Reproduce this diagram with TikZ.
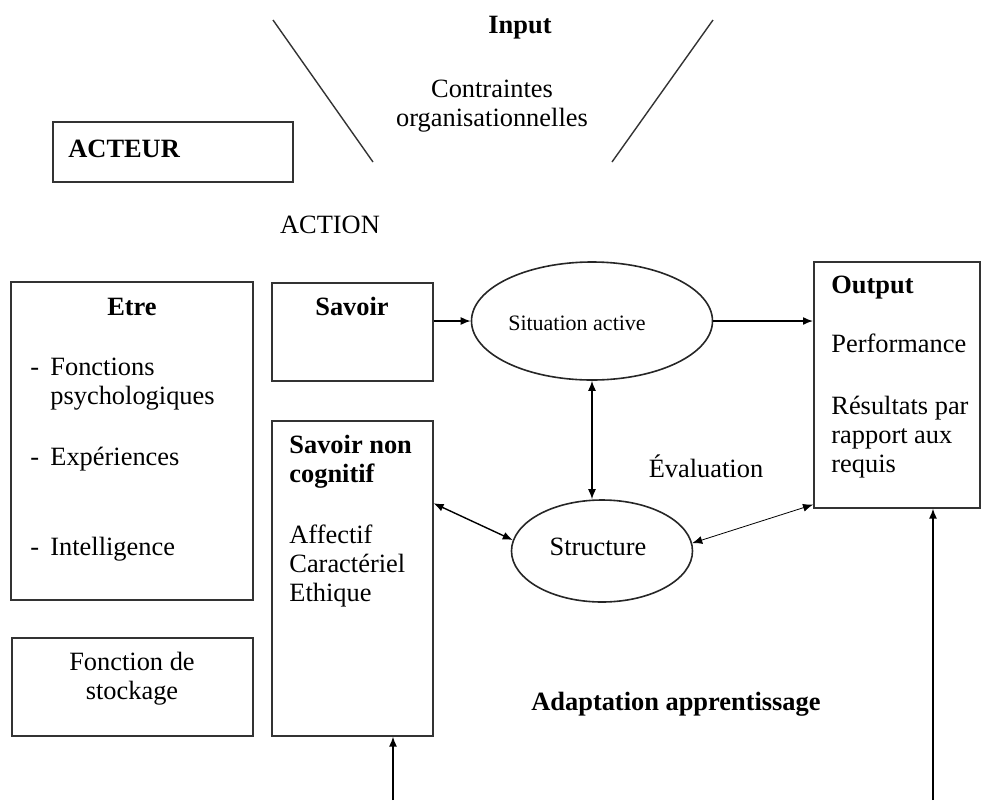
\documentclass[tikz,border=0pt]{standalone}
\usepackage{fontspec}
\setmainfont{Liberation Serif}
\usepackage{tikz}
\usetikzlibrary{shapes.geometric, arrows.meta, positioning, calc}

\begin{document}
\begin{tikzpicture}[
    x=0.5pt, y=-0.5pt,
    box/.style={rectangle, draw=black!80, line width=0.8pt, inner sep=0pt, anchor=north west},
    oval/.style={ellipse, draw=black!85, line width=0.8pt, inner sep=0pt},
    txt/.style={font=\fontsize{13.2}{14.5}\selectfont, inner sep=0pt, align=left, anchor=base west},
    ctxt/.style={font=\fontsize{13.2}{14.5}\selectfont, inner sep=0pt, align=center, anchor=base},
    arrow/.style={-{Latex[length=5pt, width=4pt]}, line width=0.7pt},
    darrow/.style={{Latex[length=5pt, width=4pt]}-{Latex[length=5pt, width=4pt]}, line width=0.7pt}
]
\useasboundingbox (0,0) rectangle (982,800);

% Input funnel
\draw[line width=0.7pt, black!80] (273,20) -- (373,162);
\draw[line width=0.7pt, black!80] (713,20) -- (612,162);
\node[ctxt, font=\fontsize{13.2}{14.5}\selectfont\bfseries] (input) at (520,33) {Input};
\node[ctxt] (contr) at (492,126) {Contraintes\\organisationnelles};

% Boxes
\node[box, minimum width=120pt, minimum height=30pt] (acteur) at (52,121) {};
\node[box, minimum width=121pt, minimum height=159pt] (etre) at (10,281) {};
\node[box, minimum width=120.5pt, minimum height=49pt] (stock) at (11,637) {};
\node[box, minimum width=80.5pt, minimum height=49pt] (savoir) at (271,282) {};
\node[box, minimum width=80.5pt, minimum height=157.5pt] (snc) at (271,420) {};
\node[box, minimum width=83pt, minimum height=123pt] (output) at (813,261) {};

% Ellipses
\node[oval, minimum width=120.5pt, minimum height=59pt] (sitact) at (592,321) {};
\node[oval, minimum width=90.5pt, minimum height=51pt] (struct) at (602,551) {};

% Texts (base = last line)
\node[txt, font=\fontsize{13.2}{14.5}\selectfont\bfseries] (tacteur) at (68,157) {ACTEUR};
\node[ctxt] (action) at (330,233) {ACTION};

\node[ctxt, font=\fontsize{13.2}{14.5}\selectfont\bfseries] (tetre) at (132,315) {Etre};
\node[txt] (d1) at (30,375) {-};
\node[txt] (fonct) at (50,404) {Fonctions\\psychologiques};
\node[txt] (d2) at (30,465) {-};
\node[txt] (exper) at (50,465) {Expériences};
\node[txt] (d3) at (30,555) {-};
\node[txt] (intel) at (50,555) {Intelligence};

\node[ctxt] (tstock) at (132,699) {Fonction de\\stockage};

\node[ctxt, font=\fontsize{13.2}{14.5}\selectfont\bfseries] (tsavoir) at (352,315) {Savoir};
\node[txt, font=\fontsize{13.2}{14.5}\selectfont\bfseries] (tsnc) at (289,482) {Savoir non\\cognitif};
\node[txt] (affect) at (289,601) {Affectif\\Caractériel\\Ethique};

\node[txt, font=\fontsize{13.2}{14.5}\selectfont\bfseries] (toutput) at (831,293) {Output};
\node[txt] (perf) at (831,352) {Performance};
\node[txt] (result) at (831,472) {Résultats par\\rapport aux\\requis};

\node[ctxt, font=\fontsize{11}{13}\selectfont] (tsit) at (577,330) {Situation active};
\node[ctxt] (tstruct) at (598,555) {Structure};
\node[ctxt] (eval) at (706,477) {Évaluation};
\node[ctxt, font=\fontsize{13.2}{14.5}\selectfont\bfseries] (adapt) at (676,710) {Adaptation apprentissage};

% Connectors
\draw[arrow] (savoir.east |- sitact.west) -- (sitact.west);
\draw[arrow] (sitact.east) -- (sitact.east -| output.west);
\draw[darrow] (sitact.south) -- (sitact.south |- struct.north);
\draw[darrow] ($(snc.north east)!0.263!(snc.south east)$) -- (struct.173);
\draw[darrow, line width=0.4pt] (struct.5) -- ($(output.north west)!0.984!(output.south west)$);

% Feedback from below
\coordinate (fb1) at (393,800);
\coordinate (fb2) at (933,800);
\draw[arrow] (fb1) -- (fb1 |- snc.south);
\draw[arrow] (fb2) -- (fb2 |- output.south);

\end{tikzpicture}
\end{document}
